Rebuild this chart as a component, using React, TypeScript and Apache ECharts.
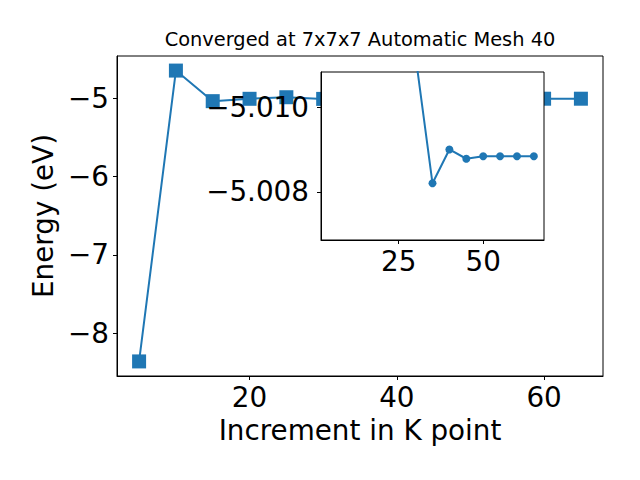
import React, { useEffect, useRef } from "react";
import * as echarts from "echarts";

const kPoints = [5, 10, 15, 20, 25, 30, 35, 40, 45, 50, 55, 60, 65];
const energies = [-8.36, -4.65, -5.04, -5.01, -4.99, -5.0112, -5.0082, -5.009, -5.00878, -5.00884, -5.00884, -5.00884, -5.00884];
const insetKPoints = [30, 35, 40, 45, 50, 55, 60, 65];
const insetEnergies = [-5.0112, -5.0082, -5.009, -5.00878, -5.00884, -5.00884, -5.00884, -5.00884];
const mainXTicks = [20, 40, 60];
const mainYTicks = [-8, -7, -6, -5];
const insetXTicks = [25, 50];
const insetYTicks = [-5.01, -5.008];
const titleText = "Converged at 7x7x7 Automatic Mesh 40";
const xName = "Increment in K point";
const yName = "Energy (eV)";

const FONT = "DejaVu Sans";
const BLUE = "#1f77b4";
const minus = (s: string) => s.replace("-", "\u2212");

export default function App() {
  const ref = useRef<HTMLDivElement>(null);
  useEffect(() => {
    if (!ref.current) return;
    const chart = echarts.init(ref.current, undefined, { renderer: "svg" });
    const axisCommon = {
      axisLine: { show: true, onZero: false, lineStyle: { color: "#000", width: 1 } },
      axisTick: { show: true, length: 4, lineStyle: { color: "#000", width: 1 } },
      splitLine: { show: false },
    };
    const labelStyle = { color: "#000", fontFamily: FONT, fontSize: 27.8 };
    chart.setOption({
      animation: false,
      backgroundColor: "#fff",
      title: {
        text: titleText,
        left: 360,
        top: 30,
        padding: 0,
        textAlign: "center",
        textStyle: { fontFamily: FONT, fontSize: 19.4, fontWeight: "normal", color: "#000" },
      },
      grid: [
        { left: 117, top: 56, width: 486, height: 320, show: true, borderColor: "#000", borderWidth: 1, backgroundColor: "transparent", z: 0 },
        { left: 321, top: 72, width: 223, height: 168, show: true, borderColor: "#000", borderWidth: 1, backgroundColor: "#fff", z: 10 },
      ],
      xAxis: [
        {
          type: "value", gridIndex: 0, min: 2, max: 68, ...axisCommon,
          axisTick: { ...axisCommon.axisTick, customValues: mainXTicks },
          axisLabel: { ...labelStyle, margin: 7, customValues: mainXTicks, formatter: (v: number) => minus(String(v)) },
          name: xName, nameLocation: "middle", nameGap: 40,
          nameTextStyle: { ...labelStyle },
        },
        {
          type: "value", gridIndex: 1, min: 2, max: 68, ...axisCommon, z: 11,
          axisTick: { ...axisCommon.axisTick, customValues: insetXTicks },
          axisLabel: { ...labelStyle, margin: 7, customValues: insetXTicks, formatter: (v: number) => minus(String(v)) },
        },
      ],
      yAxis: [
        {
          type: "value", gridIndex: 0, min: -8.546, max: -4.464, ...axisCommon,
          axisTick: { ...axisCommon.axisTick, customValues: mainYTicks },
          axisLabel: { ...labelStyle, margin: 8, customValues: mainYTicks, formatter: (v: number) => minus(String(v)) },
          name: yName, nameLocation: "middle", nameGap: 60, nameRotate: 90,
          nameTextStyle: { ...labelStyle },
        },
        {
          type: "value", gridIndex: 1, inverse: true, min: -5.01083, max: -5.00686, ...axisCommon, z: 11,
          axisTick: { ...axisCommon.axisTick, customValues: insetYTicks },
          axisLabel: { ...labelStyle, margin: 12, customValues: insetYTicks, formatter: (v: number) => minus(v.toFixed(3)) },
        },
      ],
      series: [
        {
          type: "line", xAxisIndex: 0, yAxisIndex: 0, z: 2,
          data: kPoints.map((k, i) => [k, energies[i]]),
          symbol: "rect", symbolSize: 14,
          lineStyle: { color: BLUE, width: 2 },
          itemStyle: { color: BLUE },
        },
        {
          type: "line", xAxisIndex: 1, yAxisIndex: 1, z: 12, clip: true,
          data: insetKPoints.map((k, i) => [k, insetEnergies[i]]),
          symbol: "circle", symbolSize: 8,
          lineStyle: { color: BLUE, width: 2 },
          itemStyle: { color: BLUE },
        },
      ],
    });
    return () => chart.dispose();
  }, []);
  return <div ref={ref} style={{ position: "fixed", left: 0, top: 0, width: 640, height: 480 }} />;
}
